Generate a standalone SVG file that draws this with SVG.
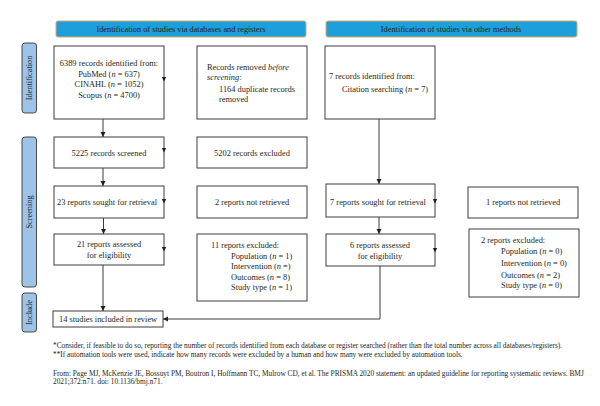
<svg xmlns="http://www.w3.org/2000/svg" width="600" height="406" viewBox="0 0 600 406">
<style>
text{font-family:"Liberation Serif","Times New Roman",serif;fill:#231f20}
.bx{fill:#fff;stroke:#3c3c3c;stroke-width:1}
.hd{fill:#1c9fdb;stroke:#d9a865;stroke-width:1}
.sd{fill:#9dc3e6;stroke:#4a4a4a;stroke-width:1}
.t{font-size:8.4px}
.h{font-size:8.3px}
.s{font-size:8.3px}
.f{font-size:7.35px}
.c{text-anchor:middle}
.ln{fill:none;stroke:#3c3c3c;stroke-width:1}
.ah{fill:#231f20}
</style>
<defs>
<marker id="arr" markerWidth="6" markerHeight="6" refX="5" refY="3" orient="auto" markerUnits="userSpaceOnUse">
<path d="M0,0.5 L5,3 L0,5.5 Z" fill="#231f20"/>
</marker>
</defs>
<rect width="600" height="406" fill="#fff"/>
<g id="header-db"><rect class="hd" x="56" y="21" width="250" height="16" rx="2"/><text class="h c" x="181" y="31.8">Identification of studies via databases and registers</text></g>
<g id="header-other"><rect class="hd" x="326" y="21" width="251" height="16" rx="2"/><text class="h c" x="451" y="31.8">Identification of studies via other methods</text></g>
<g id="side-identification"><rect class="sd" x="22" y="43" width="14.5" height="70" rx="3"/><text class="s c" transform="translate(32,78) rotate(-90)">Identification</text></g>
<g id="side-screening"><rect class="sd" x="22" y="137" width="14.5" height="150" rx="3"/><text class="s c" transform="translate(32,212) rotate(-90)">Screening</text></g>
<g id="side-include"><rect class="sd" x="22" y="293" width="14.5" height="39" rx="3"/><text class="s c" transform="translate(32,312.5) rotate(-90)">Include</text></g>

<g id="n-identified"><rect class="bx" x="54" y="46" width="110" height="73"/>
<text class="t c" x="109" y="66">6389 records identified from:</text>
<text class="t c" x="109" y="76.5">PubMed (<tspan font-style="italic">n</tspan> = 637)</text>
<text class="t c" x="109" y="87">CINAHL (<tspan font-style="italic">n</tspan> = 1052)</text>
<text class="t c" x="109" y="97.5">Scopus (<tspan font-style="italic">n</tspan> = 4700)</text></g>
<g id="n-removed"><rect class="bx" x="197" y="46" width="110" height="73"/>
<text class="t" x="207" y="69.5">Records removed <tspan font-style="italic">before</tspan></text>
<text class="t" x="207" y="80"><tspan font-style="italic">screening</tspan>:</text>
<text class="t" x="219" y="91.5">1164 duplicate records</text>
<text class="t" x="219" y="102">removed</text></g>
<g id="n-citation"><rect class="bx" x="325" y="46" width="110" height="73"/>
<text class="t" x="329" y="79">7 records identified from:</text>
<text class="t" x="342" y="91.5">Citation searching (<tspan font-style="italic">n</tspan> = 7)</text></g>

<g id="n-screened"><rect class="bx" x="54" y="137" width="110" height="31"/><text class="t c" x="109" y="155.5">5225 records screened</text></g>
<g id="n-excluded"><rect class="bx" x="197" y="137" width="110" height="31"/><text class="t c" x="252" y="155.5">5202 records excluded</text></g>

<g id="n-sought"><rect class="bx" x="54" y="186" width="110" height="32"/><text class="t c" x="107" y="205">23 reports sought for retrieval</text></g>
<g id="n-notretrieved"><rect class="bx" x="197" y="186" width="110" height="32"/><text class="t c" x="252" y="205">2 reports not retrieved</text></g>
<g id="n-sought-other"><rect class="bx" x="326" y="184" width="109" height="33"/><text class="t c" x="378" y="205">7 reports sought for retrieval</text></g>
<g id="n-notretrieved-other"><rect class="bx" x="468" y="187" width="110" height="31"/><text class="t c" x="523" y="205">1 reports not retrieved</text></g>

<g id="n-assessed"><rect class="bx" x="54" y="234" width="110" height="31"/>
<text class="t c" x="109" y="247">21 reports assessed</text>
<text class="t c" x="109" y="258">for eligibility</text></g>
<g id="n-reports-excluded"><rect class="bx" x="197" y="234" width="110" height="67"/>
<text class="t" x="211" y="248">11 reports excluded:</text>
<text class="t" x="231" y="258.5">Population (<tspan font-style="italic">n</tspan> = 1)</text>
<text class="t" x="231" y="269">Intervention (<tspan font-style="italic">n</tspan> =)</text>
<text class="t" x="231" y="279.5">Outcomes (<tspan font-style="italic">n</tspan> = 8)</text>
<text class="t" x="231" y="290">Study type (<tspan font-style="italic">n</tspan> = 1)</text></g>
<g id="n-assessed-other"><rect class="bx" x="326" y="234" width="109" height="32"/>
<text class="t c" x="380" y="248">6 reports assessed</text>
<text class="t c" x="380" y="259">for eligibility</text></g>
<g id="n-reports-excluded-other"><rect class="bx" x="469" y="229" width="110" height="68"/>
<text class="t" x="481" y="243">2 reports excluded:</text>
<text class="t" x="501" y="254">Population (<tspan font-style="italic">n</tspan> = 0)</text>
<text class="t" x="501" y="266">Intervention (<tspan font-style="italic">n</tspan> = 0)</text>
<text class="t" x="501" y="278">Outcomes (<tspan font-style="italic">n</tspan> = 2)</text>
<text class="t" x="501" y="288">Study type (<tspan font-style="italic">n</tspan> = 0)</text></g>

<g id="n-included"><rect class="bx" x="53" y="311" width="110" height="16"/><text class="t" x="59" y="321.5">14 studies included in review</text></g>

<g id="connectors">
<line class="ln" x1="103" y1="119" x2="103" y2="137" marker-end="url(#arr)"/>
<line class="ln" x1="103" y1="168" x2="103" y2="186" marker-end="url(#arr)"/>
<line class="ln" x1="103.5" y1="218" x2="103.5" y2="234" marker-end="url(#arr)"/>
<line class="ln" x1="103" y1="265" x2="103" y2="311" marker-end="url(#arr)"/>
<line class="ln" x1="379" y1="119" x2="379" y2="184" marker-end="url(#arr)"/>
<line class="ln" x1="379" y1="217" x2="379" y2="234" marker-end="url(#arr)"/>
<polyline class="ln" points="380,266 380,319 163,319" marker-end="url(#arr)"/>
<path class="ah" d="M161.8,77 L166.2,77 L164,81.5 Z"/>
<path class="ah" d="M161.8,148 L166.2,148 L164,152.5 Z"/>
<path class="ah" d="M161.8,199 L166.2,199 L164,203.5 Z"/>
<path class="ah" d="M161.8,247 L166.2,247 L164,251.5 Z"/>
<path class="ah" d="M432.8,199 L437.2,199 L435,203.5 Z"/>
<path class="ah" d="M432.8,248 L437.2,248 L435,252.5 Z"/>
</g>

<g id="footnotes">
<text class="f" x="53" y="347.5">*Consider, if feasible to do so, reporting the number of records identified from each database or register searched (rather than the total number across all databases/registers).</text>
<text class="f" x="53" y="356.5">**If automation tools were used, indicate how many records were excluded by a human and how many were excluded by automation tools.</text>
<text class="f" x="53" y="375.5">From: Page MJ, McKenzie JE, Bossuyt PM, Boutron I, Hoffmann TC, Mulrow CD, et al. The PRISMA 2020 statement: an updated guideline for reporting systematic reviews. BMJ</text>
<text class="f" x="53" y="384">2021;372:n71. doi: 10.1136/bmj.n71.</text>
</g>
</svg>
